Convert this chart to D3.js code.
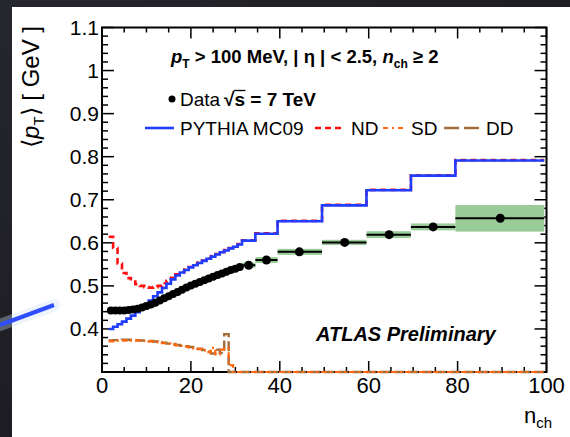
<!DOCTYPE html>
<html><head><meta charset="utf-8">
<script src="https://cdn.jsdelivr.net/npm/d3@7"></script>
<style>html,body{margin:0;padding:0;background:#1c1c22;}svg{display:block;}</style>
</head><body>
<svg id="c" width="570" height="437"></svg>
<script>
// ---------- data ----------
const binEdges = [1.5,2.5,3.5,4.5,5.5,6.5,7.5,8.5,9.5,10.5,11.5,12.5,13.5,14.5,15.5,16.5,17.5,18.5,19.5,20.5,21.5,22.5,23.5,24.5,25.5,26.5,27.5,28.5,29.5,30.5,31.5,34.5,39.5,49.5,59.5,69.5,79.5,99.5];
const dataN = [2,3,4,5,6,7,8,9,10,11,12,13,14,15,16,17,18,19,20,21,22,23,24,25,26,27,28,29,30,31,33,37,44.4,54.6,64.6,74.5,89.6];
const dataMean = [0.443,0.443,0.443,0.443,0.444,0.445,0.447,0.450,0.453,0.457,0.461,0.466,0.471,0.476,0.481,0.486,0.491,0.496,0.501,0.505,0.509,0.513,0.517,0.521,0.525,0.529,0.533,0.537,0.540,0.544,0.548,0.560,0.579,0.601,0.619,0.637,0.657];
const dataSyst = [0.004,0.004,0.004,0.004,0.004,0.004,0.004,0.004,0.004,0.004,0.004,0.004,0.004,0.004,0.004,0.004,0.004,0.004,0.004,0.004,0.004,0.004,0.004,0.004,0.004,0.004,0.004,0.004,0.004,0.004,0.006,0.007,0.007,0.006,0.008,0.008,0.031];
const pythiaMC09 = [0.400,0.405,0.411,0.417,0.424,0.431,0.439,0.448,0.457,0.466,0.476,0.485,0.495,0.505,0.515,0.524,0.531,0.537,0.543,0.548,0.553,0.558,0.563,0.568,0.573,0.578,0.582,0.587,0.591,0.596,0.605,0.621,0.650,0.687,0.722,0.756,0.791];
const pythiaND = [0.614,0.588,0.552,0.530,0.518,0.510,0.504,0.500,0.497,0.496,0.497,0.500,0.506,0.512,0.519,0.527,0.532,0.538,0.544,0.549,0.554,0.559,0.564,0.569,0.574,0.579,0.583,0.588,0.592,0.597,0.606,0.622,0.651,0.688,0.723,0.757,0.792];
const pythiaSD = [0.371,0.372,0.373,0.373,0.374,0.373,0.373,0.372,0.372,0.371,0.370,0.369,0.367,0.366,0.364,0.362,0.361,0.359,0.357,0.355,0.353,0.350,0.346,0.356,0.341,0.352,0.355,0.316,0,0,0,0,0,0,0,0,0];
const pythiaDD = [0.373,0.374,0.374,0.375,0.375,0.374,0.374,0.373,0.373,0.372,0.371,0.369,0.368,0.366,0.365,0.363,0.361,0.360,0.358,0.356,0.354,0.351,0.348,0.343,0.352,0.344,0.388,0,0,0,0,0,0,0,0,0,0];
const xTicks = [0,20,40,60,80,100];
const yTicks = [0.4,0.5,0.6,0.7,0.8,0.9,1.0,1.1];
const yTickLabels = ["0.4","0.5","0.6","0.7","0.8","0.9","1","1.1"];
const legendNames = ["PYTHIA MC09","ND","SD","DD"];

// ---------- setup ----------
const svg = d3.select("#c");
const FONT = "'Liberation Sans', Arial, Helvetica, sans-serif";
const defs = svg.append("defs");
const bg = defs.append("linearGradient").attr("id","bg").attr("x1","0").attr("y1","0").attr("x2","1").attr("y2","1");
bg.append("stop").attr("offset","0").attr("stop-color","#26262e");
bg.append("stop").attr("offset","1").attr("stop-color","#141418");
svg.append("rect").attr("width",570).attr("height",437).attr("fill","url(#bg)");
svg.append("rect").attr("x",12).attr("y",7).attr("width",558).attr("height",430).attr("fill","#fff");

// pointer line with glow
svg.append("line").attr("x1",0).attr("y1",325).attr("x2",54).attr("y2",305)
  .attr("stroke","#cfe0f4").attr("stroke-width",12).attr("opacity",0.35).attr("stroke-linecap","round");
svg.append("line").attr("x1",0).attr("y1",325).attr("x2",54).attr("y2",305)
  .attr("stroke","#2d4dff").attr("stroke-width",4);

const x = d3.scaleLinear().domain([0,100]).range([102,546.5]);
const y = d3.scaleLinear().domain([0.3,1.1]).range([372,27.5]).clamp(true);
const L=x(0), R=x(100), T=y(1.1), B=y(0.3);

// ---------- frame & ticks (drawn first, histograms on top) ----------
const ax = svg.append("g").attr("stroke","#000");
ax.append("rect").attr("x",L).attr("y",T).attr("width",R-L).attr("height",B-T).attr("fill","none").attr("stroke-width",2);
for(let v=0; v<=100; v+=5){
  const len = (v%20===0)?11:5;
  ax.append("line").attr("x1",x(v)).attr("x2",x(v)).attr("y1",B).attr("y2",B-len).attr("stroke-width",1.5);
  ax.append("line").attr("x1",x(v)).attr("x2",x(v)).attr("y1",T).attr("y2",T+len).attr("stroke-width",1.5);
}
for(let k=0; k<=40; k++){
  const v = 0.3 + k*0.02;
  const len = (k%5===0)?12:6;
  ax.append("line").attr("x1",L).attr("x2",L+len).attr("y1",y(v)).attr("y2",y(v)).attr("stroke-width",1.5);
  ax.append("line").attr("x1",R).attr("x2",R-len).attr("y1",y(v)).attr("y2",y(v)).attr("stroke-width",1.5);
}

const plot = svg.append("g");

// systematic bands
const nb = dataMean.length;
const idx = d3.range(nb);
plot.selectAll("rect.sys").data(idx).join("rect").attr("class","sys")
  .attr("x",i=>x(binEdges[i])).attr("width",i=>x(binEdges[i+1])-x(binEdges[i]))
  .attr("y",i=>y(dataMean[i]+dataSyst[i])).attr("height",i=>y(dataMean[i]-dataSyst[i])-y(dataMean[i]+dataSyst[i]))
  .attr("fill","#99cc99");

function stepPath(vals){
  let d="";
  vals.forEach((v,i)=>{
    const x0=x(binEdges[i]), x1=x(binEdges[i+1]), yv=y(v);
    d += (i===0?`M${x0},${yv}`:`V${yv}`) + `H${x1}`;
  });
  return d;
}
const series = [
  {vals:pythiaDD, color:"#a46b3a", w:2.4, dash:"10,4"},
  {vals:pythiaSD, color:"#ff6a10", w:2.2, dash:"6,3,2,3"},
  {vals:pythiaND, color:"#ff1010", w:2.6, dash:"6,4"},
  {vals:pythiaMC09, color:"#1f3cff", w:2.6, dash:null}
];
series.forEach(s=>{
  plot.append("path").attr("d",stepPath(s.vals)).attr("fill","none")
    .attr("stroke",s.color).attr("stroke-width",s.w)
    .attr("stroke-dasharray",s.dash).attr("stroke-linejoin","miter");
});

// data horizontal bars + dots
plot.selectAll("line.err").data(idx.slice(30)).join("line").attr("class","err")
  .attr("x1",i=>x(binEdges[i])).attr("x2",i=>x(binEdges[i+1]))
  .attr("y1",i=>y(dataMean[i])).attr("y2",i=>y(dataMean[i]))
  .attr("stroke","#000").attr("stroke-width",2);
plot.selectAll("circle.pt").data(idx).join("circle").attr("class","pt")
  .attr("cx",i=>x(dataN[i])).attr("cy",i=>y(dataMean[i])).attr("r",i=>i<30?4:4.5).attr("fill","#000");

// tick labels
svg.selectAll("text.xl").data(xTicks).join("text").attr("class","xl")
  .attr("x",d=>x(d)).attr("y",393).attr("text-anchor","middle")
  .attr("font-family",FONT).attr("font-size",22).text(d=>d);
svg.selectAll("text.yl").data(yTicks).join("text").attr("class","yl")
  .attr("x",99).attr("y",d=>y(d)+7.5).attr("text-anchor","end")
  .attr("font-family",FONT).attr("font-size",21).text((d,i)=>yTickLabels[i]);

// axis titles
const xt = svg.append("text").attr("x",524).attr("y",423).attr("font-family",FONT).attr("font-size",22);
xt.append("tspan").text("n");
xt.append("tspan").attr("dy",5).attr("font-size",15).text("ch");

const yt = svg.append("text").attr("transform","translate(39,26) rotate(-90)")
  .attr("text-anchor","end").attr("font-family",FONT).attr("font-size",24);
yt.append("tspan").text("\u27E8");
yt.append("tspan").attr("font-style","italic").text("p");
yt.append("tspan").attr("dy",5).attr("font-size",15).text("T");
yt.append("tspan").attr("dy",-5).text("\u27E9 [ GeV ]");

// title
const tt = svg.append("text").attr("x",171).attr("y",63).attr("font-family",FONT).attr("font-size",18.5).attr("font-weight","bold");
tt.append("tspan").attr("font-style","italic").text("p");
tt.append("tspan").attr("dy",5).attr("font-size",12).text("T");
tt.append("tspan").attr("dy",-5).text(" > 100 MeV, | \u03B7 | < 2.5, ");
tt.append("tspan").attr("font-style","italic").text("n");
tt.append("tspan").attr("dy",5).attr("font-size",12).text("ch");
tt.append("tspan").attr("dy",-5).text(" \u2265 2");

// data legend row
const dataY = 106;
svg.append("circle").attr("cx",172).attr("cy",dataY-7).attr("r",3.5).attr("fill","#000");
svg.append("text").attr("x",180).attr("y",dataY).attr("font-family",FONT).attr("font-size",19).text("Data");
const sq = svg.append("text").attr("x",224).attr("y",dataY).attr("font-family",FONT).attr("font-size",19).attr("font-weight","bold");
sq.append("tspan").text("\u221A");
sq.append("tspan").text("s");
sq.append("tspan").text(" = 7 TeV");
{
  const n = sq.node();
  const sStart = n.getStartPositionOfChar(1).x, sEnd = n.getEndPositionOfChar(1).x;
  svg.append("line").attr("x1",sStart-0.5).attr("x2",sEnd+0.5).attr("y1",dataY-15.5).attr("y2",dataY-15.5).attr("stroke","#000").attr("stroke-width",1.3);
}

// legend lines row
const legY = 128;
const legItems = [
  {x1:145,x2:174,tx:180,color:"#1f3cff",w:2.6,dash:null},
  {x1:315,x2:345,tx:351,color:"#ff1010",w:2.6,dash:"6,4"},
  {x1:383,x2:406,tx:411,color:"#ff6a10",w:2.2,dash:"5,4,2,4"},
  {x1:444,x2:481,tx:486,color:"#a46b3a",w:2.6,dash:"15,5"}
];
legItems.forEach((l,i)=>{
  svg.append("line").attr("x1",l.x1).attr("x2",l.x2).attr("y1",legY).attr("y2",legY)
    .attr("stroke",l.color).attr("stroke-width",l.w).attr("stroke-dasharray",l.dash);
  svg.append("text").attr("x",l.tx).attr("y",legY+7).attr("font-family",FONT).attr("font-size",19).text(legendNames[i]);
});

// ATLAS label
svg.append("text").attr("x",316).attr("y",341).attr("font-family",FONT).attr("font-size",20)
  .attr("font-weight","bold").attr("font-style","italic").text("ATLAS Preliminary");
</script>
</body></html>
